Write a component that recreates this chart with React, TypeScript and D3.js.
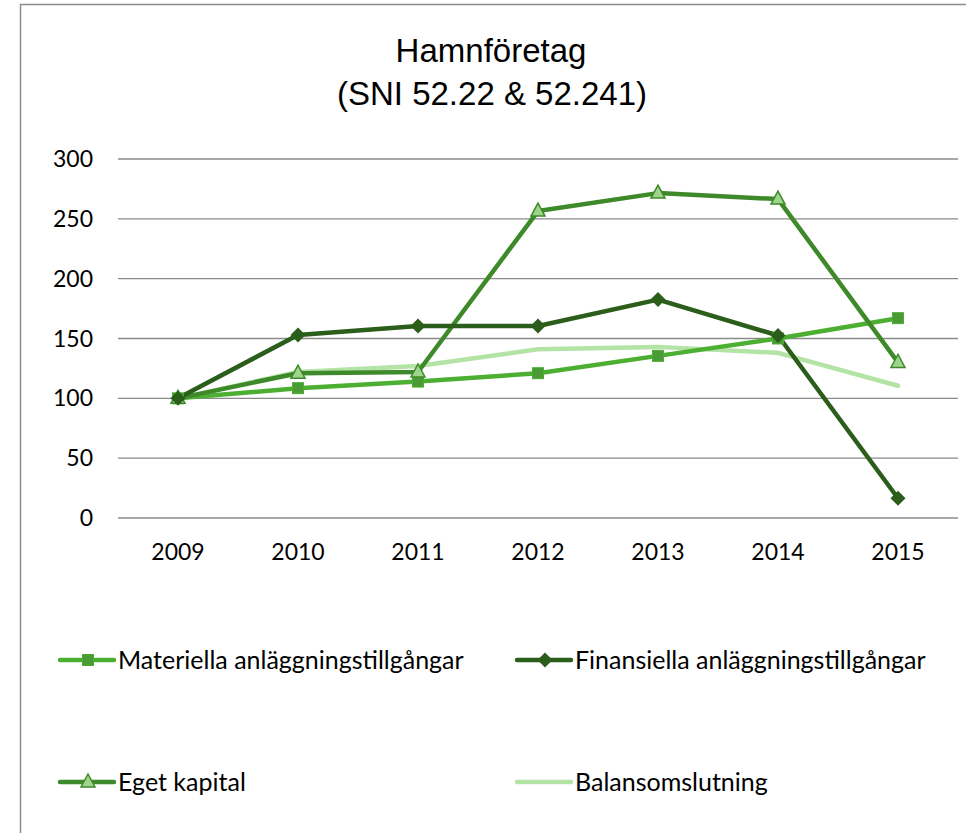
import React from "react";
import * as d3 from "d3";

const years = ["2009", "2010", "2011", "2012", "2013", "2014", "2015"];
const materiella = [100, 108.5, 114, 121, 135.5, 150, 167];
const finansiella = [100, 153, 160.5, 160.5, 182.5, 152.5, 16.5];
const egetKapital = [100, 121, 122, 256.5, 271.5, 266.5, 130];
const balans = [100, 122, 127, 141, 143, 138, 110.5];
const yTicks = [0, 50, 100, 150, 200, 250, 300];

const W = 966, H = 833;
const FONT = "Lato, 'Open Sans', sans-serif";

type Series = { name: string; values: number[]; color: string; marker: "square" | "diamond" | "triangle" | "none"; fill?: string };
const series: Series[] = [
  { name: "Balansomslutning", values: balans, color: "#B4E3A6", marker: "none" },
  { name: "Materiella anläggningstillgångar", values: materiella, color: "#4CAF32", marker: "square", fill: "#4A9A35" },
  { name: "Eget kapital", values: egetKapital, color: "#3E8A2A", marker: "triangle", fill: "#9FD48C" },
  { name: "Finansiella anläggningstillgångar", values: finansiella, color: "#2B5D1B", marker: "diamond", fill: "#2B5D1B" },
];

function Marker({ s, x, y }: { s: Series; x: number; y: number }) {
  if (s.marker === "square") return <rect x={x - 5.5} y={y - 5.5} width={11} height={11} fill={s.fill} stroke={s.color} strokeWidth={1} />;
  if (s.marker === "diamond") return <path d={`M${x},${y - 7.5}L${x + 7.5},${y}L${x},${y + 7.5}L${x - 7.5},${y}Z`} fill={s.fill} />;
  if (s.marker === "triangle") return <path d={`M${x},${y - 8}L${x + 7},${y + 5}L${x - 7},${y + 5}Z`} fill={s.fill} stroke={s.color} strokeWidth={1.5} />;
  return null;
}

export default function App() {
  const x = d3.scaleBand<string>().domain(years).range([118, 958]);
  const y = d3.scaleLinear().domain([0, 300]).range([518, 159]);
  const line = d3.line<number>().x((_, i) => (x(years[i]) as number) + x.bandwidth() / 2).y((d) => y(d));

  const legend = [
    { s: series[1], lx: 60, ly: 660 },
    { s: series[3], lx: 517, ly: 660 },
    { s: series[2], lx: 60, ly: 782 },
    { s: series[0], lx: 517, ly: 782 },
  ];

  return (
    <svg width={W} height={H} style={{ position: "absolute", left: 0, top: 0, background: "#fff" }}>
      <rect x={20.5} y={4.5} width={1000} height={900} fill="#fff" stroke="#8c8c8c" strokeWidth={1.5} />
      <text x={491} y={62} textAnchor="middle" fontFamily="'Liberation Sans', Arial, sans-serif" fontSize={33} fill="#000">Hamnföretag</text>
      <text x={492} y={105} textAnchor="middle" fontFamily="'Liberation Sans', Arial, sans-serif" fontSize={33} fill="#000">(SNI 52.22 &amp; 52.241)</text>
      {yTicks.map((t) => (
        <g key={t}>
          <line x1={118} x2={958} y1={y(t)} y2={y(t)} stroke="#8a8a8a" strokeWidth={1.3} />
          <text x={93} y={y(t)} dy="0.35em" textAnchor="end" fontFamily={FONT} fontSize={23} fill="#000">{t}</text>
        </g>
      ))}
      {years.map((yr) => (
        <text key={yr} x={(x(yr) as number) + x.bandwidth() / 2} y={560} textAnchor="middle" fontFamily={FONT} fontSize={23} fill="#000">{yr}</text>
      ))}
      {series.map((s) => (
        <path key={s.name} d={line(s.values) || ""} fill="none" stroke={s.color} strokeWidth={4.5} strokeLinejoin="round" strokeLinecap="round" />
      ))}
      {series.map((s) =>
        s.values.map((v, i) => (
          <Marker key={s.name + i} s={s} x={(x(years[i]) as number) + x.bandwidth() / 2} y={y(v)} />
        ))
      )}
      {legend.map(({ s, lx, ly }) => (
        <g key={s.name}>
          <line x1={lx} x2={lx + 54} y1={ly} y2={ly} stroke={s.color} strokeWidth={4.5} strokeLinecap="round" />
          <Marker s={s} x={lx + 28} y={ly} />
          <text x={lx + 58} y={ly} dy="0.35em" fontFamily={FONT} fontSize={25} fill="#000">{s.name}</text>
        </g>
      ))}
    </svg>
  );
}
